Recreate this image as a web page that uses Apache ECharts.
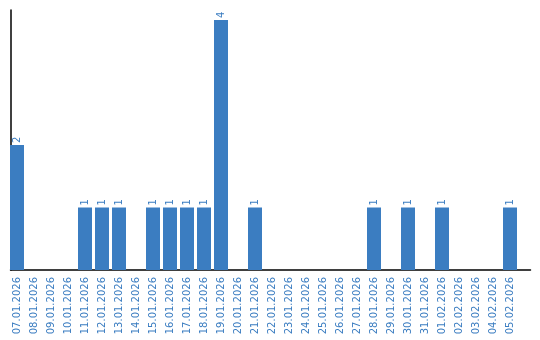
<!DOCTYPE html>
<html><head><meta charset="utf-8">
<script src="https://cdn.jsdelivr.net/npm/echarts@6/dist/echarts.min.js"></script>
<style>html,body{margin:0;padding:0;background:#fff}#c{width:540px;height:340px}</style>
</head><body><div id="c"></div>
<script>
const categories = ['07.01.2026','08.01.2026','09.01.2026','10.01.2026','11.01.2026','12.01.2026','13.01.2026','14.01.2026','15.01.2026','16.01.2026','17.01.2026','18.01.2026','19.01.2026','20.01.2026','21.01.2026','22.01.2026','23.01.2026','24.01.2026','25.01.2026','26.01.2026','27.01.2026','28.01.2026','29.01.2026','30.01.2026','31.01.2026','01.02.2026','02.02.2026','03.02.2026','04.02.2026','05.02.2026'];
const values = [2,0,0,0,1,1,1,0,1,1,1,1,4,0,1,0,0,0,0,0,0,1,0,1,0,1,0,0,0,1];
const blue = '#3b7dc1';
const chart = echarts.init(document.getElementById('c'), null, {renderer:'canvas'});
chart.setOption({
  animation:false,
  grid:[
    {left:10.5, top:10, width:520, height:260},
    {left:8.5, top:10, width:510, height:260}
  ],
  xAxis:[
    {gridIndex:0, type:'value', min:0, max:1, axisLine:{show:true, onZero:false, lineStyle:{color:'#000', width:1.5}}, axisTick:{show:false}, axisLabel:{show:false}, splitLine:{show:false}},
    {gridIndex:1, type:'category', data:categories, axisLine:{show:false}, axisTick:{show:false},
     axisLabel:{rotate:90, interval:0, margin:7, color:blue, fontFamily:'DejaVu Sans', fontSize:10}}
  ],
  yAxis:[
    {gridIndex:0, type:'value', min:0, max:4.16, axisLine:{show:true, lineStyle:{color:'#000', width:1.5}}, axisTick:{show:false}, axisLabel:{show:false}, splitLine:{show:false}},
    {gridIndex:1, type:'value', min:0, max:4.16, show:false}
  ],
  series:[{
    type:'bar', xAxisIndex:1, yAxisIndex:1, data:values.map(v=>v===0?null:v),
    barWidth:14, itemStyle:{color:blue},
    label:{show:true, position:'top', rotate:90, distance:2, align:'left', verticalAlign:'middle', color:blue, fontFamily:'DejaVu Sans', fontSize:10}
  }]
});
</script></body></html>
